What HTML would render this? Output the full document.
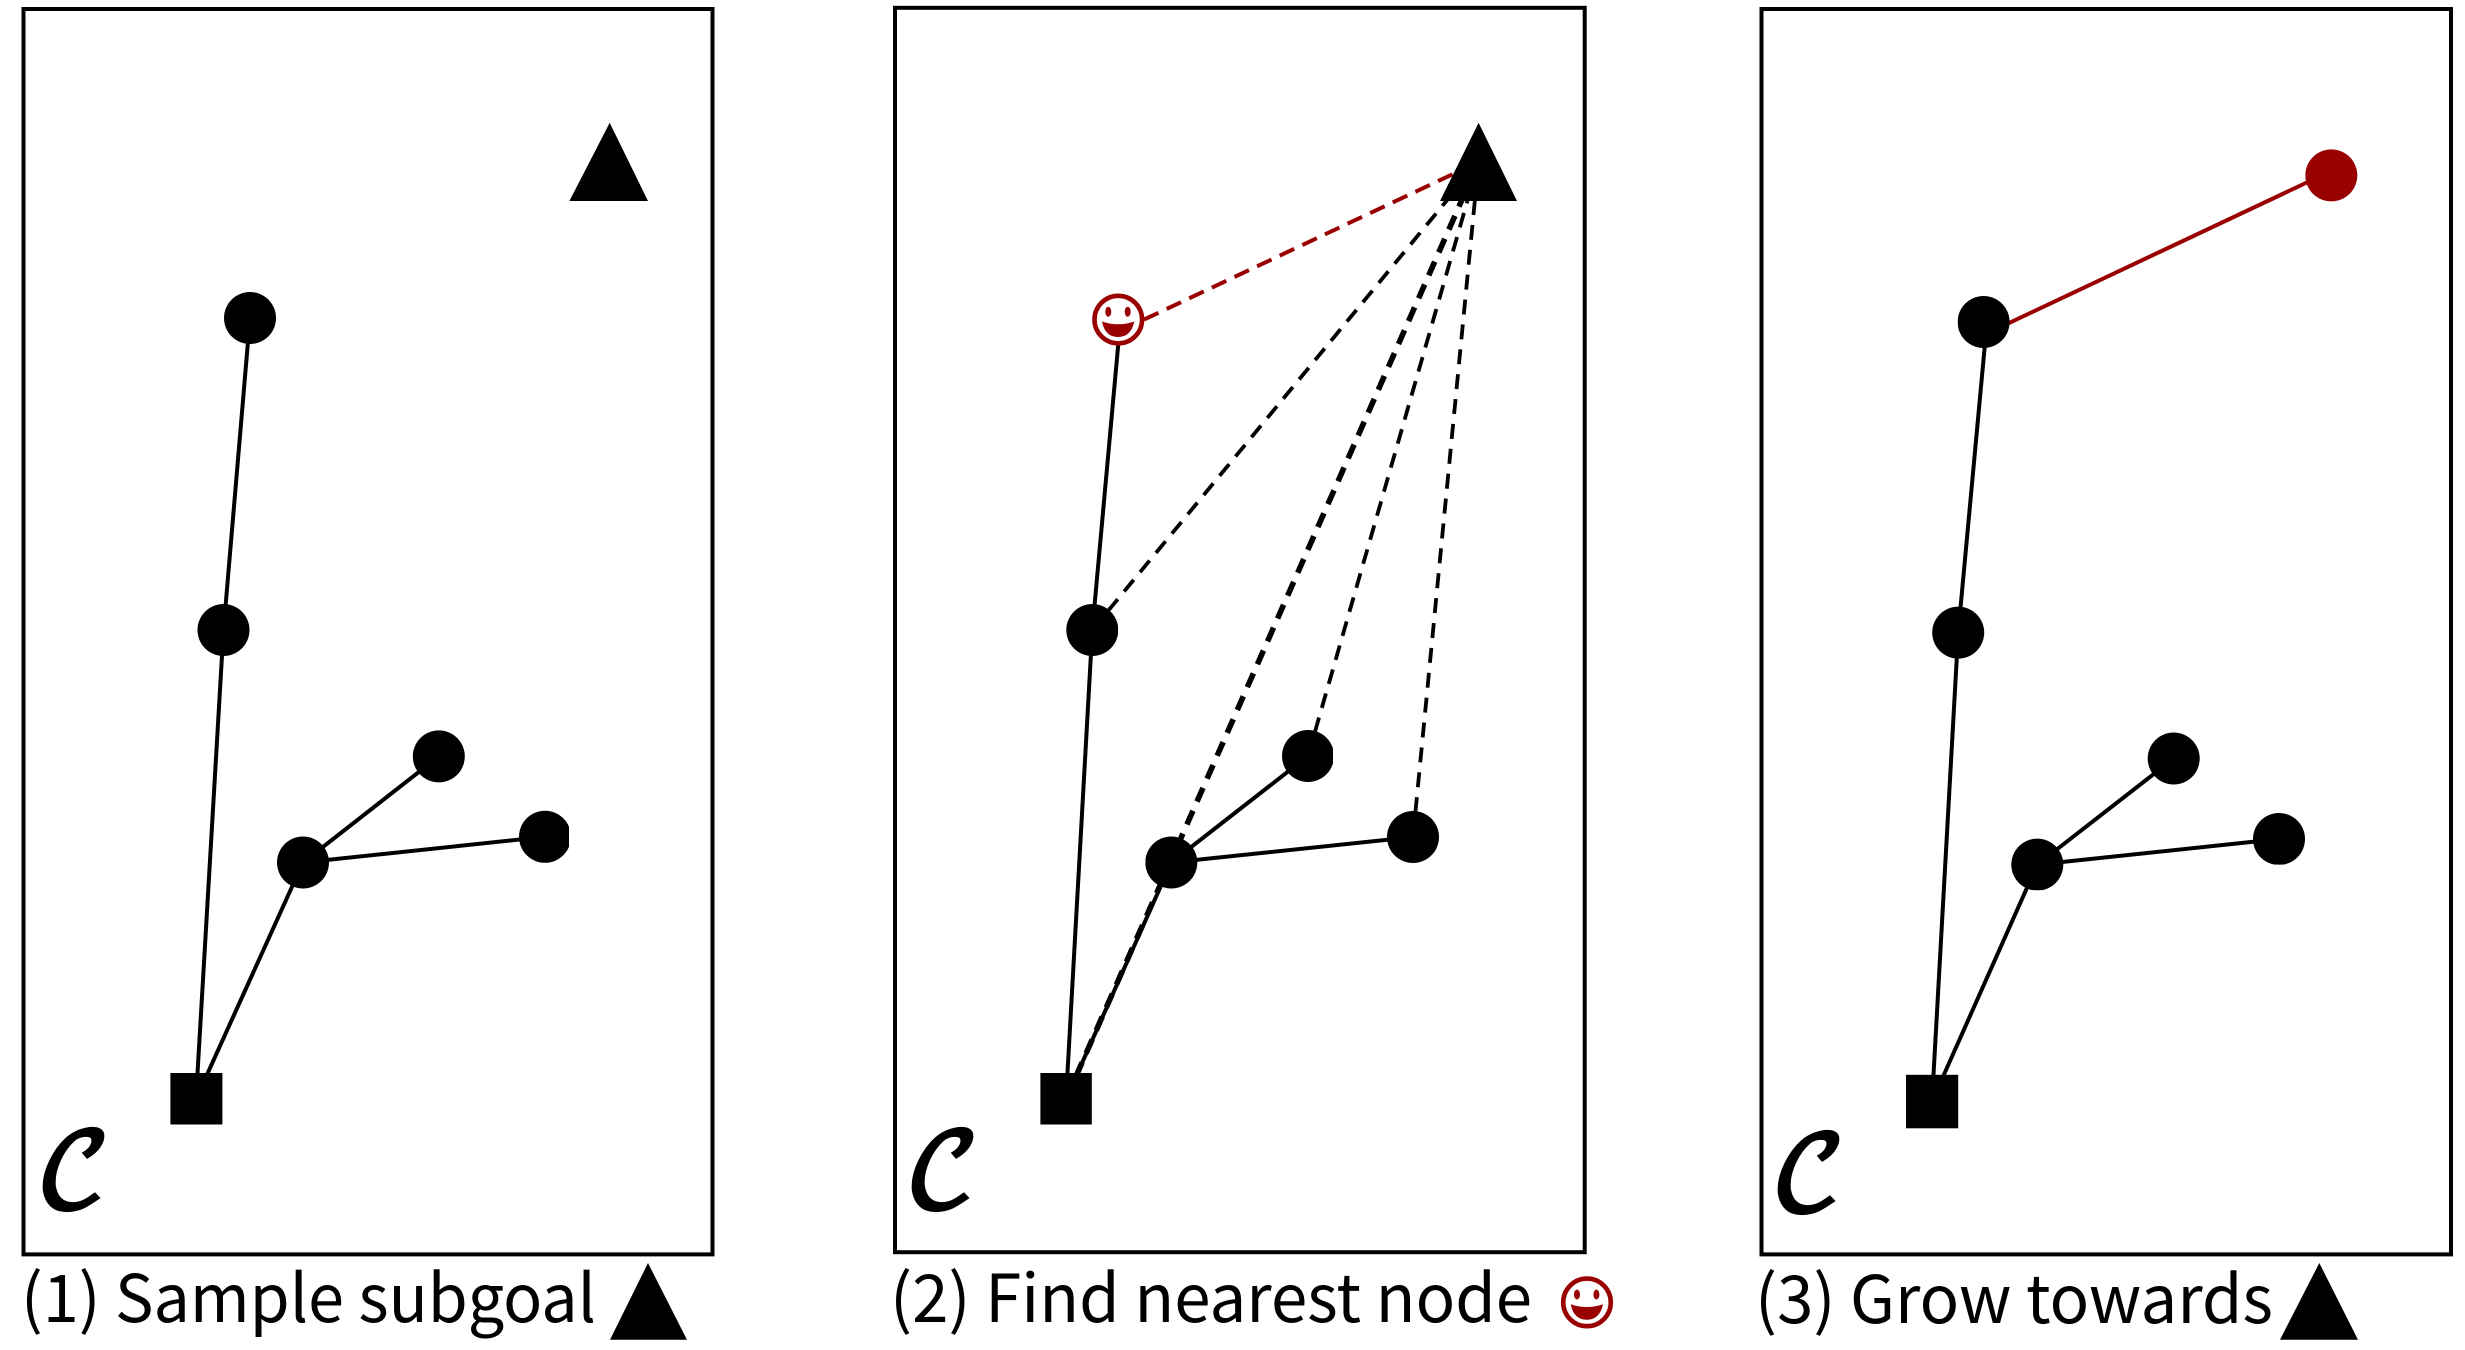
<!DOCTYPE html>
<html><head><meta charset="utf-8"><style>
html,body{margin:0;padding:0;background:#fff}
svg{display:block}
.cap{font-family:"Noto Sans CJK SC","Liberation Sans",sans-serif;font-size:66px;fill:#000}
.sc{font-family:"DejaVu Math TeX Gyre","Liberation Serif",serif;font-style:normal;font-weight:bold;font-size:103px;fill:#000}
.l{stroke:#000;stroke-width:4;fill:none}
.d{stroke:#000;stroke-width:3.8;fill:none;stroke-dasharray:15 10}
.dt{stroke:#000;stroke-width:5.6;fill:none;stroke-dasharray:15 10}
.r{stroke:#990000;stroke-width:4;fill:none}
.rd{stroke:#990000;stroke-width:4;fill:none;stroke-dasharray:16 9}
rect.p{fill:none;stroke:#000;stroke-width:4}
</style></head><body>
<svg width="2465" height="1350" viewBox="0 0 2465 1350" xmlns="http://www.w3.org/2000/svg">
<defs>
<clipPath id="c1"><rect x="197.5" y="590" width="60" height="80"/></clipPath>
<clipPath id="c2"><rect x="412" y="730" width="60" height="60"/></clipPath>
<clipPath id="c3"><rect x="510" y="800" width="59" height="70"/></clipPath>
<clipPath id="c4"><rect x="1060" y="600" width="58" height="60"/></clipPath>
<clipPath id="c5"><rect x="1280" y="730" width="53" height="60"/></clipPath>
<clipPath id="c6"><rect x="1145.5" y="830" width="60" height="60"/></clipPath>
<clipPath id="c7"><rect x="2305.4" y="140" width="60" height="70"/></clipPath>
<clipPath id="c8"><rect x="1957.8" y="296" width="60" height="60"/></clipPath>
<clipPath id="c9"><rect x="2240" y="810" width="70" height="54.6"/></clipPath>
<clipPath id="c10"><rect x="2005" y="835" width="70" height="55.3"/></clipPath>
</defs>

<!-- Panel 1 -->
<rect class="p" x="23.5" y="9" width="689" height="1245.4"/>
<path class="l" d="M250 318L223.5 630L196 1099M196 1099L303 862.5L438.8 756.4M303 862.5L545 836.8"/>
<circle cx="250" cy="318" r="26"/>
<circle cx="223.5" cy="630" r="26" clip-path="url(#c1)"/>
<circle cx="438.8" cy="756.4" r="26" clip-path="url(#c2)"/>
<circle cx="545" cy="836.8" r="26" clip-path="url(#c3)"/>
<circle cx="303" cy="862.5" r="26"/>
<rect x="170.4" y="1073" width="52" height="51.5"/>
<polygon points="609.7,122.8 648,201 569.4,201"/>
<text class="sc" x="36" y="1207">𝒞</text>
<text class="cap" x="21" y="1322" textLength="575" lengthAdjust="spacingAndGlyphs">(1) Sample subgoal</text>
<polygon points="648,1263 687,1339.7 610,1339.7"/>

<!-- Panel 2 -->
<rect class="p" x="895" y="7.8" width="689.7" height="1244.4"/>
<path class="rd" d="M1144 319.6L1478.6 162"/>
<path class="d" d="M1092.3 630L1478.6 162"/>
<path class="dt" d="M1066 1099L1478.6 162"/>
<path class="d" d="M1308 756L1478.6 162"/>
<path class="d" d="M1413 837L1478.6 162"/>
<path class="l" d="M1120.5 319.6L1092.3 630L1066 1099M1066 1099L1171.3 862.5L1308 756M1171.3 862.5L1413 837"/>
<circle cx="1092.3" cy="630" r="26" clip-path="url(#c4)"/>
<circle cx="1308" cy="756" r="26" clip-path="url(#c5)"/>
<circle cx="1413" cy="837" r="26"/>
<circle cx="1171.3" cy="862.5" r="26" clip-path="url(#c6)"/>
<rect x="1040.4" y="1073" width="51.4" height="51.5"/>
<polygon points="1478.6,122.8 1517,201 1440,201"/>
<g>
<circle cx="1118.3" cy="319.6" r="23.8" fill="#fff" stroke="#990000" stroke-width="4.6"/>
<ellipse cx="1108.3" cy="311.7" rx="3" ry="5" fill="#990000"/>
<ellipse cx="1127.7" cy="311.7" rx="3" ry="5" fill="#990000"/>
<path d="M1102 321.5Q1118 327 1134.3 321.5Q1131 337 1118 337Q1105 337 1102 321.5Z" fill="#990000"/>
</g>
<text class="sc" x="905" y="1207">𝒞</text>
<text class="cap" x="890" y="1322" textLength="642" lengthAdjust="spacingAndGlyphs">(2) Find nearest node</text>
<g transform="translate(468.7 982.8)">
<circle cx="1118.3" cy="319.6" r="23.8" fill="#fff" stroke="#990000" stroke-width="4.6"/>
<ellipse cx="1108.3" cy="311.7" rx="3" ry="5" fill="#990000"/>
<ellipse cx="1127.7" cy="311.7" rx="3" ry="5" fill="#990000"/>
<path d="M1102 321.5Q1118 327 1134.3 321.5Q1131 337 1118 337Q1105 337 1102 321.5Z" fill="#990000"/>
</g>

<!-- Panel 3 -->
<rect class="p" x="1761.5" y="9" width="689.5" height="1245.4"/>
<path class="r" d="M2005 324.9L2310 181"/>
<path class="l" d="M1987 322L1958.2 632.6L1932 1101.5M1932 1101.5L2037.3 864.6L2173.7 758.5M2037.3 864.6L2279 839"/>
<circle cx="2331.3" cy="175.4" r="26" fill="#990000" clip-path="url(#c7)"/>
<circle cx="1983.6" cy="322" r="26" clip-path="url(#c8)"/>
<circle cx="1958.2" cy="632.6" r="26"/>
<circle cx="2173.7" cy="758.5" r="26"/>
<circle cx="2279" cy="839" r="26" clip-path="url(#c9)"/>
<circle cx="2037.3" cy="864.6" r="26" clip-path="url(#c10)"/>
<rect x="1906" y="1074.8" width="52.2" height="53.5"/>
<text class="sc" x="1771" y="1210">𝒞</text>
<text class="cap" x="1755" y="1323" textLength="518" lengthAdjust="spacingAndGlyphs">(3) Grow towards</text>
<polygon points="2319.3,1263 2358,1339.7 2280,1339.7"/>
</svg>
</body></html>
